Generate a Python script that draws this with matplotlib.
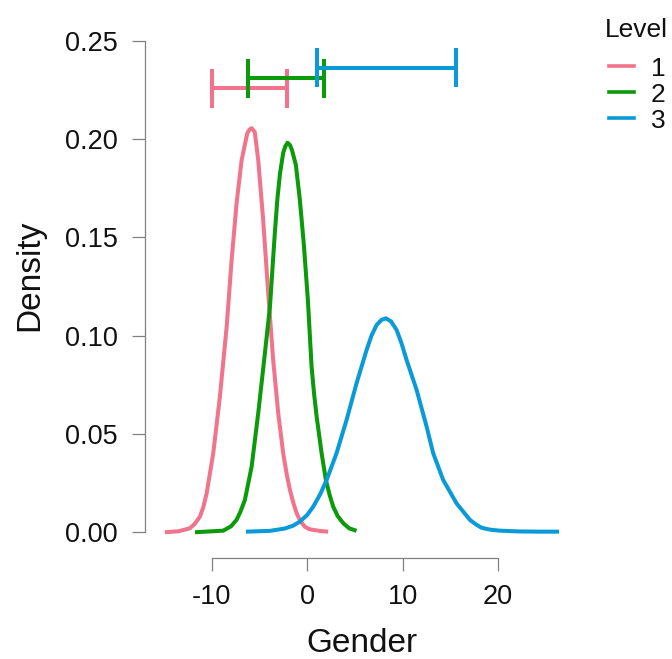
import matplotlib
matplotlib.use("Agg")
import matplotlib.pyplot as plt
from matplotlib.lines import Line2D

plt.rcParams['font.family'] = ['Liberation Sans', 'DejaVu Sans']

levels = ["1", "2", "3"]
colors = ["#F0748C", "#0A9A0A", "#0A9AD8"]

# density curves
pink_x = [-14.93, -13.5, -12.31, -11.8, -11.26, -10.9, -10.55, -9.86, -9.16, -8.45, -7.93,
          -7.41, -6.88, -6.29, -6.05, -5.83, -5.5, -5.14, -4.62, -4.09, -3.57, -3.04,
          -2.52, -2.15, -1.81, -1.45, -1.11, -0.7, -0.24, 0.2, 0.63, 1.4, 2.20]
pink_y = [0.0, 0.0005, 0.0020, 0.0043, 0.0079, 0.0128, 0.0198, 0.0402, 0.0690, 0.1046, 0.1385,
          0.1673, 0.1893, 0.2029, 0.2048, 0.2055, 0.2035, 0.1893, 0.1588, 0.1215, 0.0876, 0.0605,
          0.0402, 0.0295, 0.0215, 0.0148, 0.0097, 0.0055, 0.0028, 0.0016, 0.0012, 0.0006, 0.0003]

green_x = [-11.78, -8.81, -8.0, -7.41, -7.0, -6.54, -5.83, -5.14, -4.44, -3.91, -3.39, -3.12,
           -2.86, -2.52, -2.3, -2.06, -1.8, -1.60, -1.19, -0.77, -0.35, 0.07, 0.46, 0.72,
           0.99, 1.51, 1.96, 2.35, 2.73, 3.2, 3.78, 4.4, 5.18]
green_y = [0.0, 0.0008, 0.0030, 0.0063, 0.0105, 0.0164, 0.0334, 0.0605, 0.0910, 0.1147, 0.1527,
           0.1700, 0.1822, 0.1929, 0.1962, 0.1981, 0.1968, 0.1944, 0.1868, 0.1690, 0.1461,
           0.1181, 0.0842, 0.0705, 0.0588, 0.0402, 0.0266, 0.0190, 0.0130, 0.0082, 0.0046,
           0.0020, 0.0007]

blue_x = [-6.43, -3.91, -2.34, -1.5, -0.77, 0.0, 0.63, 1.35, 2.04, 3.08, 4.13, 5.18, 6.23,
          6.75, 7.28, 7.8, 8.26, 8.8, 9.38, 9.9, 10.43, 11.48, 12.53, 13.22, 14.27, 15.67,
          17.07, 17.7, 18.29, 19.2, 20.21, 22.31, 24.41, 26.43]
blue_y = [0.0003, 0.0007, 0.0019, 0.0033, 0.0054, 0.0088, 0.0130, 0.0192, 0.0266, 0.0402,
          0.0571, 0.0758, 0.0927, 0.1000, 0.1054, 0.1080, 0.1088, 0.1072, 0.1029, 0.0960,
          0.0876, 0.0724, 0.0537, 0.0402, 0.0266, 0.0147, 0.0063, 0.0040, 0.0023, 0.0013,
          0.0008, 0.0004, 0.0003, 0.0003]

# intervals drawn above the curves
int_lo = [-10.03, -6.19, 1.05]
int_hi = [-2.16, 1.78, 15.60]
int_y = [0.2258, 0.2309, 0.2363]
cap_half = 0.0099

xs = [pink_x, green_x, blue_x]
ys = [pink_y, green_y, blue_y]

fig = plt.figure(figsize=(6.72, 6.59), dpi=100)
ax = fig.add_axes([145 / 672, 101 / 659, 430 / 672, 537 / 659])

for x, y, c in zip(xs, ys, colors):
    ax.plot(x, y, color=c, lw=2.9, solid_capstyle="butt", solid_joinstyle="round")

for lo, hi, yy, c in zip(int_lo, int_hi, int_y, colors):
    ax.hlines(yy, lo, hi, color=c, lw=2.9)
    ax.vlines([lo, hi], yy - cap_half, yy + cap_half, color=c, lw=2.9)

ax.set_xlim(-17.02, 28.1)
ax.set_ylim(-0.0131, 0.26)
ax.set_xticks([-10, 0, 10, 20])
ax.set_xticklabels(["-10", "0", "10", "20"])
ax.set_yticks([0, 0.05, 0.10, 0.15, 0.20, 0.25])
ax.set_yticklabels(["0.00", "0.05", "0.10", "0.15", "0.20", "0.25"])

for s in ["top", "right"]:
    ax.spines[s].set_visible(False)
ax.spines["left"].set_bounds(0, 0.25)
ax.spines["bottom"].set_bounds(-10, 20)
for s in ["left", "bottom"]:
    ax.spines[s].set_color("#808080")
    ax.spines[s].set_linewidth(0.9)
ax.tick_params(axis="both", length=9.5, width=0.9, color="#808080",
               labelsize=19.5, labelcolor="#111111")
ax.tick_params(axis="y", pad=10)
ax.tick_params(axis="x", pad=9)
ax.patch.set_alpha(0)

fig.text(30 / 672, 1 - 275 / 659, "Density", rotation=90, fontsize=24,
         ha="center", va="center", color="#111111")
fig.text(362 / 672, 1 - 652 / 659, "Gender", fontsize=24,
         ha="center", va="baseline", color="#111111")

# legend on the right, outside the plot
fig.text(605 / 672, 1 - 37 / 659, "Level", fontsize=19, ha="left",
         va="baseline", color="#111111")
for i, (lab, c) in enumerate(zip(levels, colors)):
    yp = 1 - (66 + 26.2 * i) / 659
    fig.add_artist(Line2D([609 / 672, 634 / 672], [yp, yp], color=c, lw=2.6,
                          transform=fig.transFigure))
    fig.text(651 / 672, yp, lab, fontsize=19, ha="left", va="center_baseline",
             color="#111111")

fig.savefig("out.png", dpi=100)
